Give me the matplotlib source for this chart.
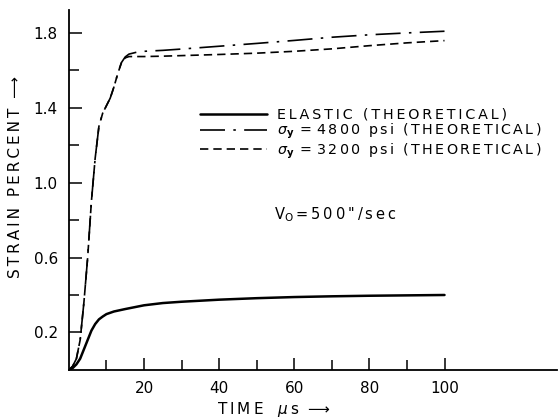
import matplotlib
matplotlib.use("Agg")
import matplotlib.pyplot as plt
from matplotlib.ticker import FixedLocator

plt.rcParams['font.family'] = ['DejaVu Sans']
plt.rcParams['mathtext.fontset'] = 'dejavusans'

# Strain histories (time in microseconds, strain in percent)
t_elastic = [0, 1, 2, 3, 4, 5, 6, 7, 8, 9, 10, 12, 15, 20, 25, 30, 40, 50, 60, 70, 80, 90, 100]
strain_elastic = [0, 0.01, 0.03, 0.06, 0.11, 0.16, 0.21, 0.245, 0.27, 0.285, 0.298, 0.312,
                  0.325, 0.345, 0.357, 0.364, 0.375, 0.383, 0.389, 0.393, 0.396, 0.398, 0.40]

t_4800 = [0, 1, 2, 3, 4, 5, 6, 7, 8, 9, 10, 11, 12, 13, 14, 15, 16, 18, 20, 25, 30,
          40, 50, 60, 70, 80, 90, 100]
strain_4800 = [0, 0.02, 0.06, 0.16, 0.36, 0.6, 0.9, 1.13, 1.3, 1.37, 1.41, 1.45, 1.51, 1.58,
               1.64, 1.67, 1.685, 1.695, 1.70, 1.705, 1.712, 1.727, 1.742, 1.758, 1.775,
               1.788, 1.798, 1.807]

t_3200 = [0, 1, 2, 3, 4, 5, 6, 7, 8, 9, 10, 11, 12, 13, 14, 15, 16, 18, 20, 25, 30,
          40, 50, 60, 70, 80, 90, 100]
strain_3200 = [0, 0.02, 0.06, 0.16, 0.36, 0.6, 0.9, 1.13, 1.3, 1.37, 1.41, 1.45, 1.51, 1.58,
               1.64, 1.665, 1.672, 1.672, 1.672, 1.674, 1.677, 1.683, 1.69, 1.70, 1.713,
               1.73, 1.745, 1.757]

x_ticks = [20, 40, 60, 80, 100]
x_minor = [10, 30, 50, 70, 90]
y_ticks = [0.2, 0.6, 1.0, 1.4, 1.8]
y_minor = [0.4, 0.8, 1.2, 1.6]

THIN = '\u2009'
MATH_THIN = r'$\,$'


def spaced(s, joiner=THIN):
    """Open up the lettering between characters (math segments left intact)."""
    parts = s.split('$')
    out = []
    for i, p in enumerate(parts):
        out.append(p if i % 2 else joiner.join(p))
    return '$'.join(out)


fig = plt.figure(figsize=(5.6, 4.19), dpi=100)
ax = fig.add_axes([0.123, 0.117, 0.872, 0.859])

ax.plot(t_elastic, strain_elastic, color='black', lw=1.8, solid_capstyle='round',
        label=spaced('ELASTIC (THEORETICAL)'))
ax.plot(t_4800, strain_4800, color='black', lw=1.2, dashes=(15, 5, 1.5, 5),
        label=r'$\sigma_\mathbf{y}$' + MATH_THIN + ' = ' +
              spaced('4800 psi (THEORETICAL)', MATH_THIN))
ax.plot(t_3200, strain_3200, color='black', lw=1.2, dashes=(5, 3),
        label=r'$\sigma_\mathbf{y}$' + MATH_THIN + ' = ' +
              spaced('3200 psi (THEORETICAL)', MATH_THIN))

ax.set_xlim(0, 130)
ax.set_ylim(0, 1.92)
ax.spines['top'].set_visible(False)
ax.spines['right'].set_visible(False)
ax.spines['left'].set_linewidth(1.3)
ax.spines['bottom'].set_linewidth(1.3)

ax.set_xticks(x_ticks)
ax.set_yticks(y_ticks)
ax.set_yticklabels([f"{v:.1f}" for v in y_ticks])
ax.xaxis.set_minor_locator(FixedLocator(x_minor))
ax.yaxis.set_minor_locator(FixedLocator(y_minor))
ax.tick_params(which='major', direction='in', length=9, width=1.1, labelsize=11, pad=8)
ax.tick_params(which='minor', direction='in', length=7, width=1.1)

ax.set_xlabel(spaced('TIME') + '   $\\mu$' + THIN + 's  ⟶', fontsize=11)
ax.xaxis.set_label_coords(0.42, -0.083)
ax.set_ylabel(spaced('STRAIN PERCENT') + '  ⟶', fontsize=11)
ax.yaxis.set_label_coords(-0.094, 0.535)

ax.legend(loc='center left', bbox_to_anchor=(0.268, 0.655), frameon=False,
          fontsize=10.3, handlelength=4.7, handletextpad=0.7, labelspacing=0.0,
          borderpad=0, borderaxespad=0)

ax.text(0.421, 0.42, spaced('V') + r'$_\mathrm{O}$' + THIN + '=' + THIN + spaced('500"/sec'),
        transform=ax.transAxes, fontsize=10.5)

fig.savefig('out.png', dpi=100)
